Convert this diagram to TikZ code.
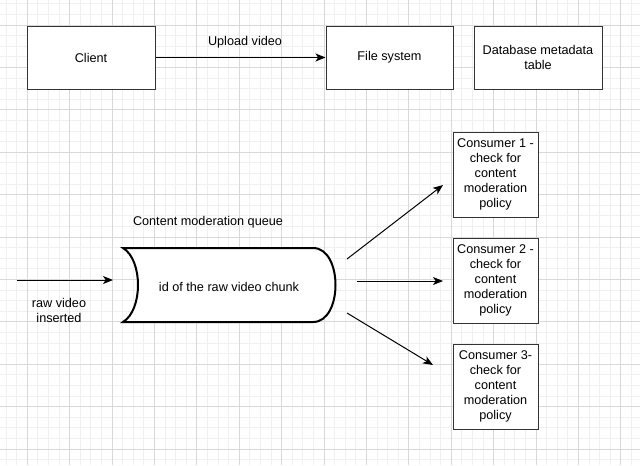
\documentclass[tikz,border=0pt]{standalone}
\usepackage{fontspec}
\setmainfont{Liberation Sans}
\usetikzlibrary{arrows.meta}
\begin{document}
\begin{tikzpicture}[x=0.75pt,y=-0.75pt,
  minorgrid/.style={draw=black!6,line width=0.75pt},
  majorgrid/.style={draw=black!15,line width=0.75pt},
  box/.style={draw=black!80,line width=0.75pt,fill=white,font=\fontsize{9.5}{11.25}\selectfont,align=center,inner sep=1pt},
  lbl/.style={font=\fontsize{9.5}{11.25}\selectfont,align=center,inner sep=0pt},
  arr/.style={draw=black,line width=0.75pt,-{Stealth[length=7.5pt,width=6pt,inset=2pt]}}]
\useasboundingbox (0,0) rectangle (640,465);
\fill[white] (0,0) rectangle (640,465);
% grid
\foreach \i in {-3,...,58} {\draw[minorgrid] ({27.3+\i*10.6},0) -- ({27.3+\i*10.6},465);}
\foreach \i in {-3,...,44} {\draw[minorgrid] (0,{25+\i*10.6}) -- (640,{25+\i*10.6});}
\foreach \i in {-1,...,14} {\draw[majorgrid] ({27.3+\i*42.4},0) -- ({27.3+\i*42.4},465);}
\foreach \i in {-1,...,11} {\draw[majorgrid] (0,{25+\i*42.4}) -- (640,{25+\i*42.4});}
% top row
\node[box,minimum width=96pt,minimum height=47.25pt] (client) at (91,57.5) {Client};
\node[box,minimum width=95.25pt,minimum height=47.25pt] (fs) at (389.5,57.5) {File system};
\node[box,minimum width=96pt,minimum height=47.25pt] (db) at (538,57.5) {Database metadata\\table};
\draw[arr] (client) -- (fs);
\node[lbl] (uplbl) at (245,42) {Upload video};
% queue
\draw[black,line width=1.5pt,fill=white] (123,248) -- (313,248) .. controls (343,248) and (343,322) .. (313,322) -- (123,322) .. controls (143,310) and (143,260) .. (123,248) -- cycle;
\node[lbl] (queue) at (229,287) {id of the raw video chunk};
\node[lbl] (qlbl) at (208,222) {Content moderation queue};
% input
\coordinate (inS) at (17,280);
\coordinate (inE) at (113,280);
\draw[arr] (inS) -- (inE);
\node[lbl] (inlbl) at (59,310) {raw video\\inserted};
% consumers
\node[box,minimum width=63.75pt,minimum height=63.75pt] (c1) at (495.5,174.5) {Consumer 1 -\\check for\\content\\moderation\\policy};
\node[box,minimum width=63.75pt,minimum height=63.75pt] (c2) at (495.5,280.5) {Consumer 2 -\\check for\\content\\moderation\\policy};
\node[box,minimum width=63.75pt,minimum height=63.75pt] (c3) at (495.5,386.5) {Consumer 3-\\check for\\content\\moderation\\policy};
\coordinate (a1s) at (347,259); \coordinate (a1e) at (443,185);
\coordinate (a2s) at (357,281); \coordinate (a2e) at (443,281);
\coordinate (a3s) at (347,313); \coordinate (a3e) at (433,365);
\draw[arr] (a1s) -- (a1e);
\draw[arr] (a2s) -- (a2e);
\draw[arr] (a3s) -- (a3e);
\end{tikzpicture}
\end{document}
